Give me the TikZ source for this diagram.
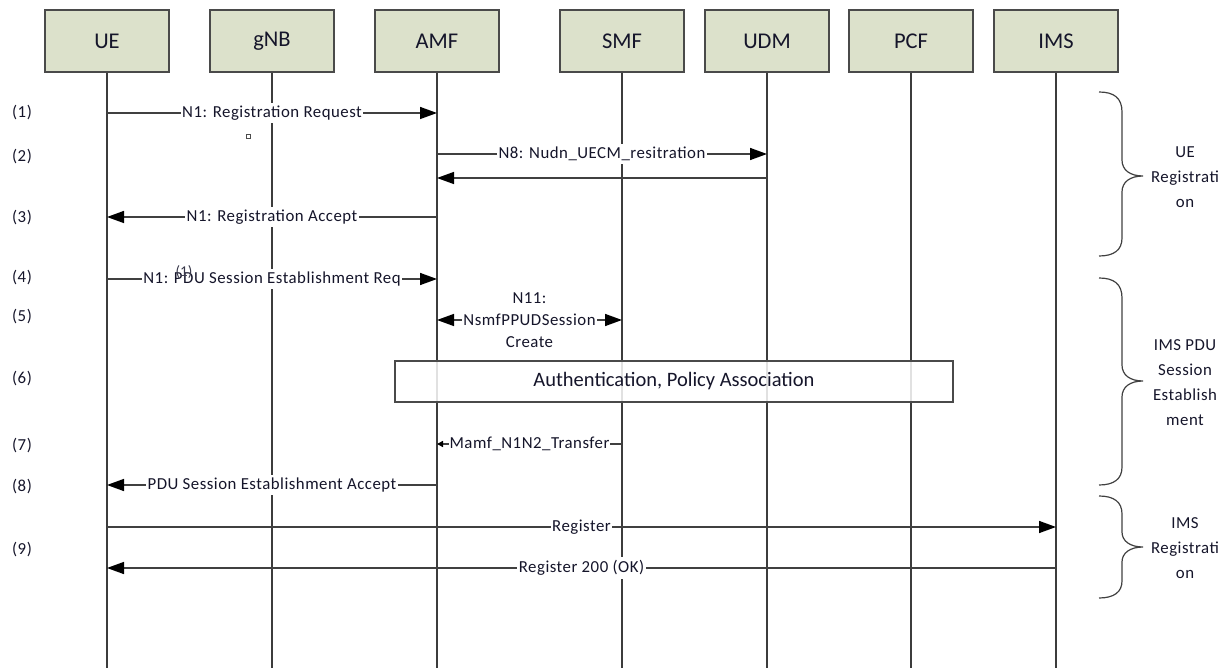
\documentclass[tikz,border=0pt]{standalone}
\usepackage{fontspec}
\setmainfont{Carlito}
\newfontfamily\msgfont[LetterSpace=3]{Carlito}
\usetikzlibrary{arrows.meta}
\definecolor{boxfill}{HTML}{DCE1CB}
\definecolor{boxline}{HTML}{4A4A4A}
\definecolor{lifecol}{HTML}{3C3C3C}
\definecolor{msgcol}{HTML}{404040}
\definecolor{txtcol}{HTML}{15152A}
\begin{document}
\begin{tikzpicture}[x=1pt,y=-1pt,
 entity/.style={draw=boxline, line width=1.4pt, fill=boxfill, minimum width=124pt, minimum height=62pt, inner sep=0pt, font=\fontsize{22.5}{26}\selectfont, text=txtcol},
 lifeline/.style={draw=lifecol, line width=1.3pt},
 msgline/.style={draw=msgcol, line width=1.5pt, -{Triangle[length=17pt,width=12pt,color=black]}},
 twoway/.style={draw=msgcol, line width=1.5pt, {Triangle[length=17pt,width=12pt,color=black]}-{Triangle[length=17pt,width=12pt,color=black]}},
 smallmsg/.style={draw=msgcol, line width=1.5pt, -{Triangle[length=6pt,width=6pt,color=black]}},
 msglabel/.style={fill=white, inner xsep=1.5pt, inner ysep=3pt, font=\msgfont\fontsize{16.8}{22}\selectfont, text=txtcol},
 steplabel/.style={font=\msgfont\fontsize{16.8}{22}\selectfont, text=txtcol},
 grouplabel/.style={align=center, font=\msgfont\fontsize{16.8}{25}\selectfont, text=txtcol},
 curlybrace/.style={draw=black!75, line width=1.2pt},
 phasebox/.style={draw=boxline, line width=1.3pt, fill=white, fill opacity=0.85, text opacity=1, minimum width=558pt, minimum height=41pt, inner sep=0pt, font=\fontsize{20.5}{24}\selectfont, text=txtcol}
]
\useasboundingbox (0,0) rectangle (1231,668);

% entities
\node[entity] (ue)  at (107,41)  {UE};
\node[entity] (gnb) at (272,41)  {gNB};
\node[entity] (amf) at (437,41)  {AMF};
\node[entity] (smf) at (622,41)  {SMF};
\node[entity] (udm) at (767,41)  {UDM};
\node[entity] (pcf) at (911,41)  {PCF};
\node[entity] (ims) at (1056,41) {IMS};

% lifelines
\foreach \n/\x in {ue/107,gnb/272,amf/437,smf/622,udm/767,pcf/911,ims/1056}{
  \coordinate (\n-end) at (\x,668);
  \draw[lifeline] (\n) -- (\n-end);
}

% step numbers
\node[steplabel] (s1) at (22,113) {(1)};
\node[steplabel] (s2) at (22,157) {(2)};
\node[steplabel] (s3) at (22,218) {(3)};
\node[steplabel] (s4) at (22,278) {(4)};
\node[steplabel] (s5) at (22,317) {(5)};
\node[steplabel] (s6) at (22,379) {(6)};
\node[steplabel] (s7) at (22,446) {(7)};
\node[steplabel] (s8) at (22,487) {(8)};
\node[steplabel] (s9) at (22,550) {(9)};

% messages
\draw[msgline] (ue |- 0,113) -- node[msglabel] (m1) {N1: Registration Request} (amf |- 0,113);
\draw[black!70, line width=0.8pt] (246,134) rectangle (250,138);
\draw[msgline] (amf |- 0,154) -- node[msglabel] (m2) {N8: Nudn\_UECM\_resitration} (udm |- 0,154);
\draw[msgline] (udm |- 0,178) -- (amf |- 0,178);
\draw[msgline] (amf |- 0,217) -- node[msglabel] (m3) {N1: Registration Accept} (ue |- 0,217);
\draw[msgline] (ue |- 0,279) -- node[msglabel] (m4) {N1: PDU Session Establishment Req} (amf |- 0,279);
\node[font=\fontsize{15}{16}\selectfont, text=txtcol!85, inner sep=0pt] (ovl) at (184,272) {(1)};
\draw[twoway] (amf |- 0,320) -- node[msglabel, align=center, inner ysep=0pt] (m5) {N11:\\NsmfPPUDSession\\Create} (smf |- 0,320);

\node[phasebox] (auth) at (674,381.5) {Authentication, Policy Association};

\draw[smallmsg] (smf |- 0,444) -- node[msglabel, inner xsep=0.5pt] (m7) {Mamf\_N1N2\_Transfer} (amf |- 0,444);
\draw[msgline] (amf |- 0,485) -- node[msglabel] (m8) {PDU Session Establishment Accept} (ue |- 0,485);
\draw[msgline] (ue |- 0,527) -- node[msglabel] (m9a) {Register} (ims |- 0,527);
\draw[msgline] (ims |- 0,568) -- node[msglabel] (m9b) {Register 200 (OK)} (ue |- 0,568);

% braces
\draw[curlybrace] (1099,92) .. controls (1114,92) and (1122,98) .. (1122,112) -- (1122,160)
  .. controls (1122,170) and (1130,176) .. (1143,176)
  .. controls (1130,176) and (1122,182) .. (1122,192) -- (1122,238)
  .. controls (1122,250) and (1114,256) .. (1099,256);
\draw[curlybrace] (1099,278) .. controls (1114,278) and (1122,284) .. (1122,298) -- (1122,365)
  .. controls (1122,375) and (1130,381) .. (1143,381)
  .. controls (1130,381) and (1122,387) .. (1122,397) -- (1122,467)
  .. controls (1122,479) and (1114,485) .. (1099,485);
\draw[curlybrace] (1099,496) .. controls (1114,496) and (1122,502) .. (1122,514) -- (1122,532)
  .. controls (1122,541) and (1130,547) .. (1143,547)
  .. controls (1130,547) and (1122,553) .. (1122,562) -- (1122,581)
  .. controls (1122,592) and (1114,598) .. (1099,598);

\node[grouplabel] (g1) at (1185,177) {UE\\Registrati\\on};
\node[grouplabel] (g2) at (1185,383) {IMS PDU\\Session\\Establish\\ment};
\node[grouplabel] (g3) at (1185,548) {IMS\\Registrati\\on};
\end{tikzpicture}
\end{document}
